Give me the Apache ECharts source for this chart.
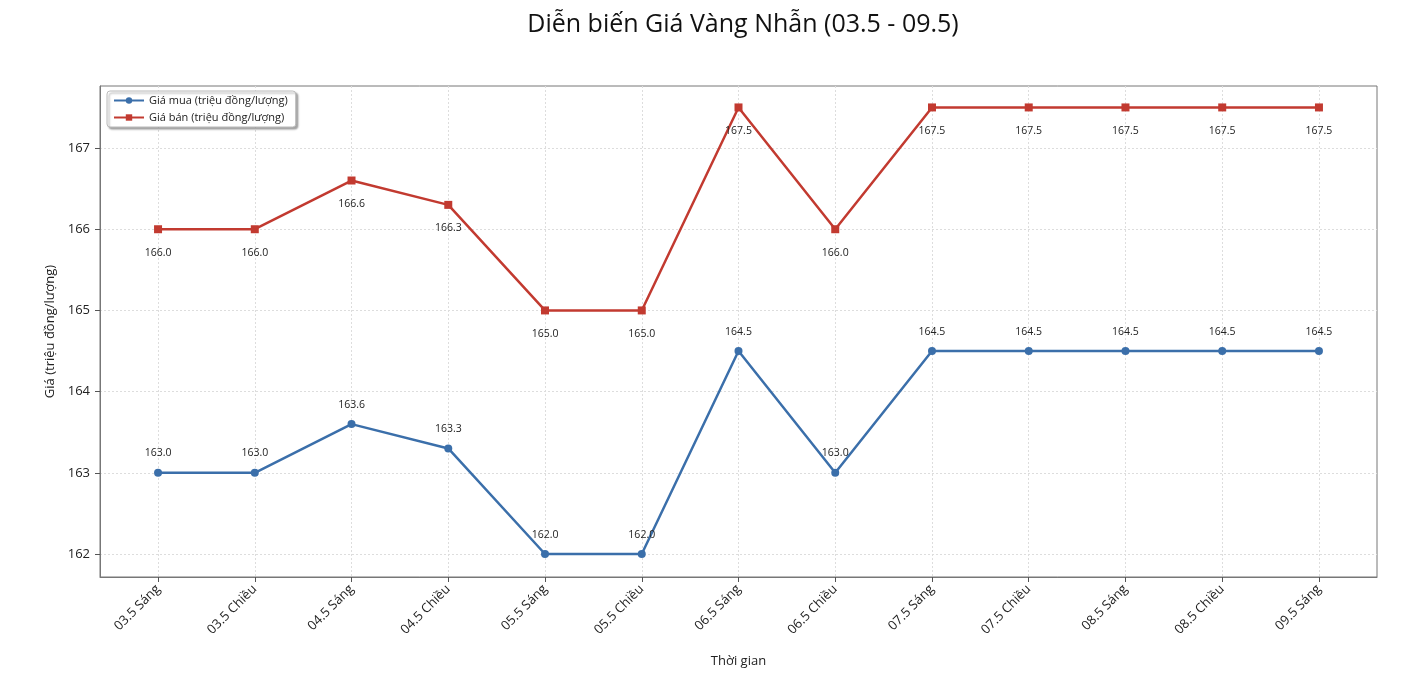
<!DOCTYPE html>
<html><head><meta charset="utf-8">
<script src="https://cdn.jsdelivr.net/npm/echarts@6/dist/echarts.min.js"></script>
<style>html,body{margin:0;padding:0;background:#fff}#c{width:1410px;height:678px}</style>
</head><body><div id="c"></div>
<script>
const categories = ["03.5 Sáng","03.5 Chiều","04.5 Sáng","04.5 Chiều","05.5 Sáng","05.5 Chiều","06.5 Sáng","06.5 Chiều","07.5 Sáng","07.5 Chiều","08.5 Sáng","08.5 Chiều","09.5 Sáng"];
const buyPrices = [163.0,163.0,163.6,163.3,162.0,162.0,164.5,163.0,164.5,164.5,164.5,164.5,164.5];
const sellPrices = [166.0,166.0,166.6,166.3,165.0,165.0,167.5,166.0,167.5,167.5,167.5,167.5,167.5];
const yTicks = [162,163,164,165,166,167];

const font = "'Open Sans', 'Noto Sans', sans-serif";
const idx = categories.map((c,i)=>i);
const chart = echarts.init(document.getElementById('c'));
chart.setOption({
  animation:false,
  textStyle:{fontFamily:font},
  title:{text:'Diễn biến Giá Vàng Nhẫn (03.5 - 09.5)', left:738, top:7, textAlign:'center',
    textStyle:{fontSize:25, fontWeight:'normal', color:'#111', fontFamily:font}},
  legend:{orient:'vertical', left:107, top:91, itemWidth:30, itemHeight:8, itemGap:6,
    backgroundColor:'#fff', borderColor:'#bbb', borderWidth:1, borderRadius:3, padding:[4,8,4,6],
    shadowColor:'rgba(0,0,0,0.35)', shadowOffsetX:2, shadowOffsetY:2, shadowBlur:2,
    textStyle:{fontSize:11, color:'#222'},
    data:['Giá mua (triệu đồng/lượng)','Giá bán (triệu đồng/lượng)']},
  grid:{left:100, right:33, top:86, bottom:101, show:true, borderColor:'#777', borderWidth:1},
  xAxis:{type:'value', min:-0.6, max:12.6,
    name:'Thời gian', nameLocation:'middle', nameGap:78, nameTextStyle:{fontSize:13,color:'#222'},
    axisLine:{show:true, onZero:false, lineStyle:{color:'#777'}},
    axisTick:{show:true, inside:false, length:5, lineStyle:{color:'#555'}, customValues:idx},
    axisLabel:{customValues:idx, rotate:45, fontSize:13, color:'#222', margin:10,
      formatter:v=>categories[Math.round(v)]},
    splitLine:{show:true, lineStyle:{type:[2,2], color:'#ddd'}}},
  yAxis:{type:'value', min:161.717, max:167.764,
    name:'Giá (triệu đồng/lượng)', nameLocation:'middle', nameGap:40, nameTextStyle:{fontSize:13,color:'#222'},
    axisLine:{show:true, onZero:false, lineStyle:{color:'#777'}},
    axisTick:{show:true, inside:false, length:5, lineStyle:{color:'#555'}, customValues:yTicks},
    axisLabel:{customValues:yTicks, fontSize:13, color:'#222', margin:10},
    splitLine:{show:true, lineStyle:{type:[2,2], color:'#ddd'}}},
  series:[
    {name:'Giá mua (triệu đồng/lượng)', type:'line', data:buyPrices.map((v,i)=>[i,v]),
      color:'#3b6faa', symbol:'circle', symbolSize:8, lineStyle:{width:2.5},
      label:{show:true, position:'top', distance:10, fontSize:10.5, color:'#222', formatter:p=>p.value[1].toFixed(1)}},
    {name:'Giá bán (triệu đồng/lượng)', type:'line', data:sellPrices.map((v,i)=>[i,v]),
      color:'#c23a30', symbol:'rect', symbolSize:8, lineStyle:{width:2.5},
      label:{show:true, position:'bottom', distance:14, fontSize:10.5, color:'#222', formatter:p=>p.value[1].toFixed(1)}}
  ]
});
</script></body></html>
